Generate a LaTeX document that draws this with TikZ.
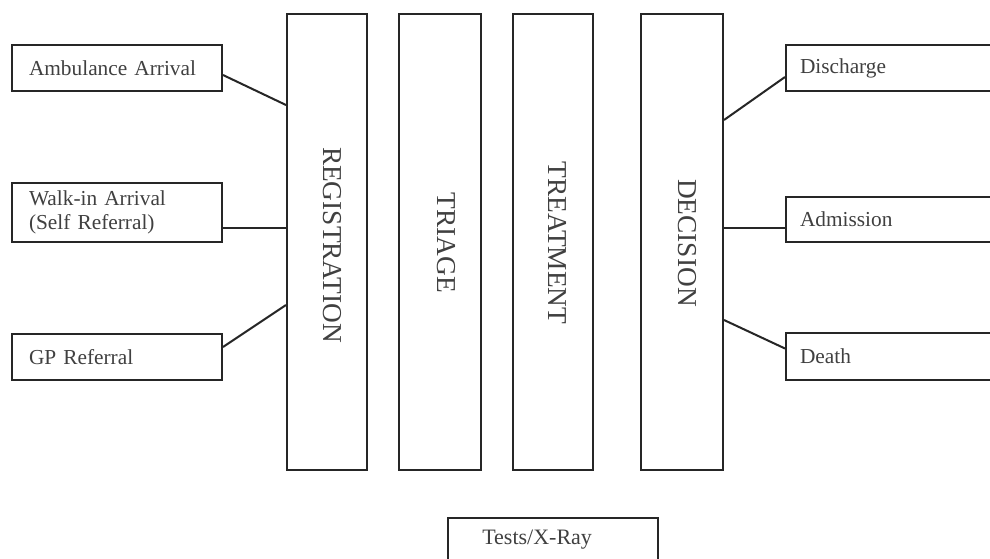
\documentclass[tikz,border=0pt]{standalone}
\usepackage{fontspec}
\setmainfont{Liberation Serif}
\begin{document}
\begin{tikzpicture}[x=0.75pt,y=-0.75pt,
  box/.style={draw=black!85, line width=1.5pt, fill=white, rectangle, inner sep=0pt},
  small/.style={font=\fontsize{16}{18}\selectfont, text=black!75},
  big/.style={font=\fontsize{20.5}{22}\selectfont, text=black!75, rotate=-90, inner sep=0pt},
  link/.style={draw=black!85, line width=1.5pt}]
  % canvas
  \useasboundingbox (0,0) rectangle (990,558);
  \clip (0,0) rectangle (990,558);
  \fill[white] (0,0) rectangle (990,558);

  % arrival routes (left column)
  \node[box, small, minimum width=157.5pt, minimum height=34.5pt, text width=132pt,
        inner xsep=12.75pt, align=left] (amb) at (117,68) {Ambulance Arrival};
  \node[box, small, minimum width=157.5pt, minimum height=44.25pt, text width=132pt,
        inner xsep=12.75pt, align=left] (walk) at (117,212.5) {\raisebox{-2.5pt}{Walk-in Arrival}\\\raisebox{-2.5pt}{(Self Referral)}};
  \node[box, small, minimum width=157.5pt, minimum height=34.5pt, text width=132pt,
        inner xsep=12.75pt, align=left] (gp) at (117,357) {GP Referral};

  % process stages
  \node[box, minimum width=60pt, minimum height=342pt] (reg) at (327,242) {};
  \node[box, minimum width=61.5pt, minimum height=342pt] (tri) at (440,242) {};
  \node[box, minimum width=60pt, minimum height=342pt] (trt) at (553,242) {};
  \node[box, minimum width=61.5pt, minimum height=342pt] (dec) at (682,242) {};
  \node[big] (regtxt) at (332,245) {REGISTRATION};
  \node[big] (tritxt) at (446,243) {TRIAGE};
  \node[big] (trttxt) at (558,243) {TREATMENT};
  \node[big] (dectxt) at (687,243) {DECISION};

  % outcomes (right column)
  \node[box, small, minimum width=168pt, minimum height=34.5pt, text width=147pt,
        inner xsep=10.5pt, align=left] (dis) at (898,68) {Discharge};
  \node[box, small, minimum width=168pt, minimum height=33.75pt, text width=147pt,
        inner xsep=10.5pt, align=left] (adm) at (898,219.5) {Admission};
  \node[box, small, minimum width=168pt, minimum height=35.25pt, text width=147pt,
        inner xsep=10.5pt, align=left] (dth) at (898,356.5) {Death};

  % investigations
  \node[box, minimum width=157.5pt, minimum height=54pt] (tests) at (553,554) {};
  \node[small, anchor=west, inner sep=0pt, font=\fontsize{16.5}{18}\selectfont] (teststxt) at (482,540) {Tests/X-Ray};

  % attachment points on the stage boxes
  \coordinate (r1) at (reg.west |- 0,105);
  \coordinate (r2) at (reg.west |- 0,228);
  \coordinate (r3) at (reg.west |- 0,305);
  \coordinate (d1) at (dec.east |- 0,120);
  \coordinate (d2) at (dec.east |- 0,228);
  \coordinate (d3) at (dec.east |- 0,320);

  % connectors
  \draw[link] ([yshift=-5.25pt]amb.east) -- (r1);
  \draw[link] (walk.east |- r2) -- (r2);
  \draw[link] ([yshift=7.5pt]gp.east) -- (r3);
  \draw[link] (d1) -- ([yshift=-6.75pt]dis.west);
  \draw[link] (d2) -- (adm.west |- d2);
  \draw[link] (d3) -- ([yshift=6pt]dth.west);
\end{tikzpicture}
\end{document}
